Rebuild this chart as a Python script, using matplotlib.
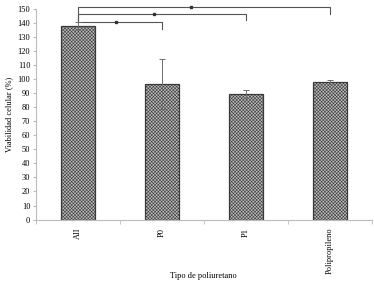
import matplotlib
matplotlib.use('Agg')
import matplotlib.pyplot as plt
import numpy as np

plt.rcParams['font.family'] = ['Liberation Serif', 'DejaVu Serif']
plt.rcParams['hatch.color'] = '#8a8a8a'
plt.rcParams['hatch.linewidth'] = 0.4

# Datos
categorias = ['AII', 'P0', 'P1', 'Polipropileno']
viabilidad = [138, 96.5, 89.5, 98]
error = [3, 18, 3, 1.5]

# comparaciones significativas (indice_a, indice_b, altura, extremo)
brackets = [(0, 1, 140.8, 135.8), (0, 2, 146.3, 142.2), (0, 3, 151.2, 146.5)]

fig = plt.figure(figsize=(3.74, 2.84), dpi=100)
ax = fig.add_axes([0.096, 0.227, 0.899, 0.741])

x = np.arange(len(categorias))
ax.bar(x, viabilidad, width=0.4, color='#bdbdbd', edgecolor='#3a3a3a',
       linewidth=0.9, hatch='xxxxxxxxxx', zorder=1)
ax.errorbar(x, viabilidad, yerr=error, fmt='none', ecolor='#6e6e6e',
            elinewidth=0.7, capsize=2, capthick=0.7, zorder=3)

for a, b, h, fin in brackets:
    ax.plot([a, a, b, b], [141, h, h, fin], color='#555555', lw=0.8,
            clip_on=False)
    ax.plot((a + b) / 2 - (b - a) * 0.05, h, marker='s', ms=1.5,
            color='#333333', clip_on=False)

ax.set_ylim(0, 150)
ax.set_xlim(-0.5, 3.5)
ax.set_yticks(range(0, 151, 10))
ax.set_xticks(x)
ax.set_xticklabels(categorias, rotation=90, fontsize=6)
ax.set_xticks(np.arange(-0.5, 3.6, 1), minor=True)
ax.tick_params(axis='x', which='major', length=0, pad=6)
ax.tick_params(axis='x', which='minor', length=3, color='#bbbbbb', direction='out')
ax.tick_params(axis='y', labelsize=6, length=2, color='#bbbbbb', pad=2)

for s in ['top', 'right']:
    ax.spines[s].set_visible(False)
ax.spines['left'].set_color('#bbbbbb')
ax.spines['bottom'].set_color('#bbbbbb')

ax.set_ylabel('Viabilidad celular (%)', fontsize=6, labelpad=3)
fig.text(0.543, 0.028, 'Tipo de poliuretano', fontsize=6, ha='center', va='center')

plt.savefig('out.png', dpi=100)
